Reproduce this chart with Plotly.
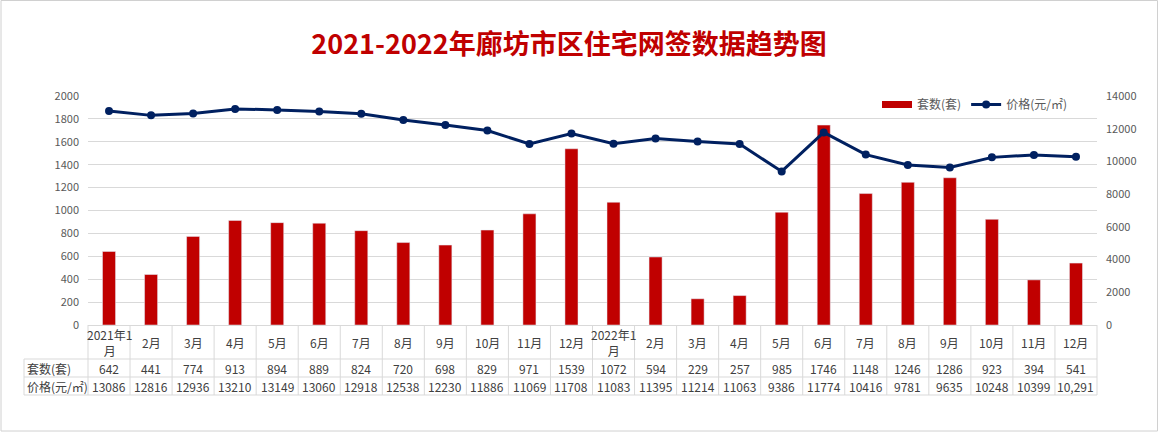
import plotly.graph_objects as go

# ---- data ----
months = ["2021年1<br>月", "2月", "3月", "4月", "5月", "6月", "7月", "8月", "9月", "10月", "11月", "12月",
          "2022年1<br>月", "2月", "3月", "4月", "5月", "6月", "7月", "8月", "9月", "10月", "11月", "12月"]
counts = [642, 441, 774, 913, 894, 889, 824, 720, 698, 829, 971, 1539,
          1072, 594, 229, 257, 985, 1746, 1148, 1246, 1286, 923, 394, 541]
prices = [13086, 12816, 12936, 13210, 13149, 13060, 12918, 12538, 12230, 11886, 11069, 11708,
          11083, 11395, 11214, 11063, 9386, 11774, 10416, 9781, 9635, 10248, 10399, 10291]
price_cells = ["13086", "12816", "12936", "13210", "13149", "13060", "12918", "12538", "12230", "11886", "11069", "11708",
               "11083", "11395", "11214", "11063", "9386", "11774", "10416", "9781", "9635", "10248", "10399", "10,291"]
row_labels = ["套数(套)", "价格(元/㎡)"]
title_text = "2021-2022年廊坊市区住宅网签数据趋势图"

# ---- layout geometry (pixels) ----
FW, FH = 1159, 432
L, R, T, B = 88, 62, 96, 107
W, H = FW - L - R, FH - T - B
FONT = "Noto Sans CJK SC, Noto Sans, sans-serif"
GRID = "#D9D9D9"
TXT = "#404040"


def px_x(p):
    return (p - L) / W


def px_y(p):
    return (FH - B - p) / H


idx = list(range(len(months)))

fig = go.Figure()
fig.add_trace(go.Bar(x=idx, y=counts, name=row_labels[0], marker_color="#C00000",
                     width=0.31, showlegend=False))
fig.add_trace(go.Scatter(x=[None], y=[None], mode="lines", name=row_labels[0],
                         line=dict(color="#C00000", width=7)))
fig.add_trace(go.Scatter(x=idx, y=prices, name=row_labels[1], yaxis="y2", mode="lines+markers",
                         line=dict(color="#002060", width=3),
                         marker=dict(size=8, color="#002060")))

# table rows (pixel boundaries)
row1_bot, row2_bot, row3_bot = 359, 377, 395
label_left = 24

shapes = []
line = dict(color=GRID, width=1)
for i in idx[:-1]:
    shapes.append(dict(type="line", xref="x", yref="paper", x0=i + 0.5, x1=i + 0.5,
                       y0=0, y1=px_y(row3_bot), line=line))
for xd in (0, 1):
    shapes.append(dict(type="line", xref="x domain", yref="paper", x0=xd, x1=xd,
                       y0=0, y1=px_y(row3_bot), line=line))
shapes.append(dict(type="line", xref="paper", yref="paper", x0=px_x(label_left), x1=px_x(label_left),
                   y0=px_y(row1_bot), y1=px_y(row3_bot), line=line))
for yb in (row1_bot, row2_bot, row3_bot):
    shapes.append(dict(type="line", xref="paper", yref="paper", x0=px_x(label_left), x1=1,
                       y0=px_y(yb), y1=px_y(yb), line=line))
# outer border
shapes.append(dict(type="rect", xref="paper", yref="paper",
                   x0=px_x(1), x1=px_x(FW - 1.5), y0=px_y(FH - 1), y1=px_y(0.5),
                   line=dict(color="#D0D0D0", width=1), fillcolor="rgba(0,0,0,0)"))

annotations = []
tf = dict(family=FONT, size=12, color=TXT)
for i in idx:
    annotations.append(dict(x=i, xref="x", y=px_y((FH - B + row1_bot) / 2), yref="paper",
                            text=months[i], showarrow=False, font=tf, xanchor="center", yanchor="middle"))
    annotations.append(dict(x=i, xref="x", y=px_y((row1_bot + row2_bot) / 2), yref="paper",
                            text=str(counts[i]), showarrow=False, font=tf, xanchor="center", yanchor="middle"))
    annotations.append(dict(x=i, xref="x", y=px_y((row2_bot + row3_bot) / 2), yref="paper",
                            text=price_cells[i], showarrow=False, font=tf, xanchor="center", yanchor="middle"))
annotations.append(dict(x=px_x(label_left + 1), xref="paper", y=px_y((row1_bot + row2_bot) / 2), yref="paper",
                        text=row_labels[0], showarrow=False, font=tf, xanchor="left", yanchor="middle"))
annotations.append(dict(x=px_x(label_left + 1), xref="paper", y=px_y((row2_bot + row3_bot) / 2), yref="paper",
                        text=row_labels[1], showarrow=False, font=tf, xanchor="left", yanchor="middle"))

tick_font = dict(family=FONT, size=11, color="#595959")

fig.update_layout(
    width=FW, height=FH,
    margin=dict(l=L, r=R, t=T, b=B, pad=0),
    paper_bgcolor="white", plot_bgcolor="white",
    title=dict(text=title_text, x=569 / FW, xanchor="center", xref="container",
               y=1 - 45 / FH, yanchor="middle", yref="container",
               font=dict(family=FONT, size=27, color="#C00000", weight=700)),
    xaxis=dict(range=[-0.5, len(months) - 0.5], showticklabels=False, showgrid=False,
               zeroline=False, showline=False, fixedrange=True),
    yaxis=dict(range=[0, 2000], dtick=200, showgrid=True, gridcolor=GRID, gridwidth=1,
               zeroline=True, zerolinecolor=GRID, zerolinewidth=1, showline=False,
               tickfont=tick_font, ticklabelstandoff=8, tickformat="d"),
    yaxis2=dict(range=[0, 14000], dtick=2000, overlaying="y", side="right", showgrid=False,
                zeroline=False, showline=False, tickfont=tick_font, ticklabelstandoff=8,
                tickformat="d"),
    legend=dict(orientation="h", x=px_x(877), y=px_y(90), xanchor="left", yanchor="top",
                font=dict(family=FONT, size=12, color="#595959"), bgcolor="rgba(0,0,0,0)",
                itemwidth=30, tracegroupgap=0),
    shapes=shapes,
    annotations=annotations,
    showlegend=True,
)

fig.write_html("out.html")
